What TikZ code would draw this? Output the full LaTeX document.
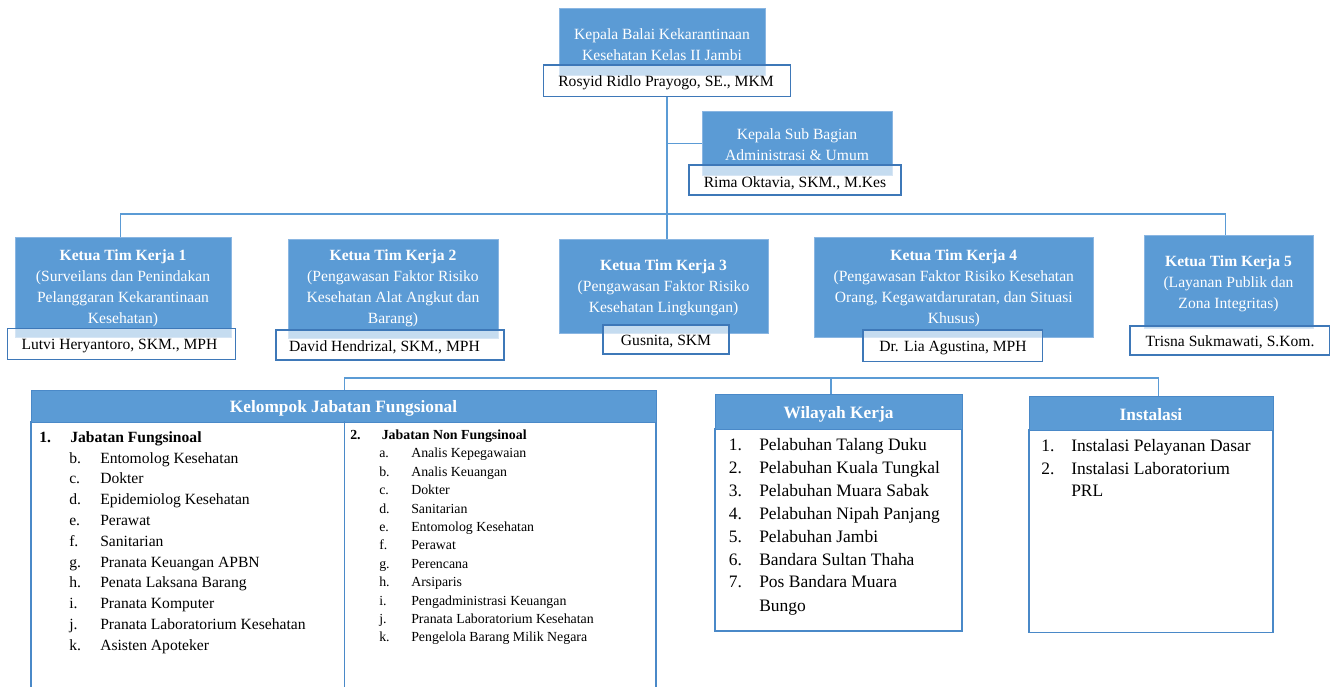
\documentclass[tikz,border=0pt]{standalone}
\usepackage{fontspec}
\setmainfont{Liberation Serif}
\usetikzlibrary{fit}
\definecolor{cBlue}{HTML}{5B9BD5}
\definecolor{cBlueEdge}{HTML}{8AB6E2}
\definecolor{cName}{HTML}{3E78B8}
\definecolor{cLine}{HTML}{5B9BD5}
\definecolor{cListB}{HTML}{4A89C8}
\tikzset{
 bluebox/.style={fill=cBlue, draw=cBlueEdge, line width=0.4pt, inner sep=0pt},
 bt/.style={inner sep=0pt, text=white, align=center, font=\fontsize{11.7}{15.8}\selectfont},
 namebox/.style={draw=cName, line width=0.8pt, fill=white, fill opacity=0.65, inner sep=0pt},
 nt/.style={inner sep=0pt, font=\fontsize{11.7}{14}\selectfont},
 conn/.style={draw=cLine, line width=0.9pt},
 hdr/.style={fill=cBlue, draw=cListB, line width=0.7pt, inner sep=0pt},
 ht/.style={inner sep=0pt, text=white, font=\bfseries\fontsize{13}{15}\selectfont},
 listbody/.style={draw=cListB, line width=0.8pt, inner sep=0pt},
 lt/.style={inner sep=0pt, anchor=base west, font=\fontsize{11.7}{14}\selectfont},
 ltr/.style={inner sep=0pt, anchor=base west, font=\fontsize{10.4}{12}\selectfont},
 lw/.style={inner sep=0pt, anchor=base west, font=\fontsize{13.1}{15}\selectfont},
}
\begin{document}
\begin{tikzpicture}[x=0.75pt,y=-0.75pt]
\useasboundingbox (0,0) rectangle (1331,686);
\fill[white] (0,0) rectangle (1331,686);

% list bodies first
\node[listbody, fit={(31,422)(656,700)}] (kb) {};
\node[listbody, fit={(715,429)(962,631)}] (wb) {};
\node[listbody, fit={(1029,430)(1273,632.7)}] (ib) {};

% connector coordinates
\coordinate (busL) at (120.7,214);
\coordinate (busR) at (1225.7,214);
\coordinate (bbL) at (344.5,378);
\coordinate (bbR) at (1158.5,378);
\coordinate (bbW) at (831,378);

% blue boxes
\node[bluebox, fit={(559,8.3)(765,75)}] (top) {};
\node[bluebox, fit={(702,111.7)(892.7,175)}] (sub) {};
\node[bluebox, fit={(15,237.3)(231.7,337.3)}] (t1) {};
\node[bluebox, fit={(288.3,239)(498.3,338.3)}] (t2) {};
\node[bluebox, fit={(559,239)(768,333.3)}] (t3) {};
\node[bluebox, fit={(814,237.7)(1093.6,337.7)}] (t4) {};
\node[bluebox, fit={(1144,235)(1313,328)}] (t5) {};

\node[bt] (topx) at (662,45) {Kepala Balai Kekarantinaan\\Kesehatan Kelas II Jambi};
\node[bt] (subx) at (797,145) {Kepala Sub Bagian\\Administrasi \& Umum};
\node[bt] (t1x) at (123,288) {\textbf{Ketua Tim Kerja 1}\\(Surveilans dan Penindakan\\Pelanggaran Kekarantinaan\\Kesehatan)};
\node[bt] (t2x) at (393,288) {\textbf{Ketua Tim Kerja 2}\\(Pengawasan Faktor Risiko\\Kesehatan Alat Angkut dan\\Barang)};
\node[bt] (t3x) at (663.5,287.5) {\textbf{Ketua Tim Kerja 3}\\(Pengawasan Faktor Risiko\\Kesehatan Lingkungan)};
\node[bt] (t4x) at (953.8,288) {\textbf{Ketua Tim Kerja 4}\\(Pengawasan Faktor Risiko Kesehatan\\Orang, Kegawatdaruratan, dan Situasi\\Khusus)};
\node[bt] (t5x) at (1228.5,283.5) {\textbf{Ketua Tim Kerja 5}\\(Layanan Publik dan\\Zona Integritas)};

% name boxes
\node[namebox, fit={(543.3,65)(790.7,96.7)}] (topname) {};
\node[namebox, fit={(689,165)(901,195)}] (subname) {};
\node[namebox, fit={(7.3,328.3)(235.7,359.3)}] (n1) {};
\node[namebox, fit={(276,330)(504,360)}] (n2) {};
\node[namebox, fit={(603,325)(729,354)}] (n3) {};
\node[namebox, fit={(863,330)(1042.6,361.7)}] (n4) {};
\node[namebox, fit={(1130,326)(1329.7,355)}] (n5) {};

\node[nt] (topnamex) at (666,83) {Rosyid Ridlo Prayogo, SE., MKM};
\node[nt] (subnamex) at (795,183.5) {Rima Oktavia, SKM., M.Kes};
\node[nt] (n1x) at (119.5,346) {Lutvi Heryantoro, SKM., MPH};
\node[nt] (n2x) at (384.5,347.5) {David Hendrizal, SKM., MPH};
\node[nt] (n3x) at (666,342) {Gusnita, SKM};
\node[nt] (n4x) at (953,348) {Dr. Lia Agustina, MPH};
\node[nt] (n5x) at (1230,342.5) {Trisna Sukmawati, S.Kom.};

% headers
\node[hdr, fit={(31,390)(656,422)}] (kh) {};
\node[hdr, fit={(715,394.3)(962,429)}] (wh) {};
\node[hdr, fit={(1029,396)(1273,430)}] (ih) {};
\node[ht] (khx) at (343.5,408) {Kelompok Jabatan Fungsional};
\node[ht] (whx) at (838.5,414) {Wilayah Kerja};
\node[ht] (ihx) at (1151,415) {Instalasi};

% connectors (top part)
\draw[conn] (topname.south) -- (topname.south |- t3.north);
\draw[conn] (topname.south |- sub.west) -- (sub.west);
\draw[conn] (busL |- t1.north) -- (busL) -- (busR) -- (busR |- t5.north);

% connectors (bottom part) and divider
\draw[conn] (bbL |- kh.north) -- (bbL) -- (bbR) -- (bbR |- ih.north);
\draw[conn] (bbW) -- (bbW |- wh.north);
\draw[draw=cListB, line width=0.8pt] (bbL |- kb.north) -- (bbL |- kb.south);

% left column
\node[lt] (jf1n) at (39,442) {\textbf{1.}};
\node[lt] (jf1t) at (70,442) {\textbf{Jabatan Fungsinoal}};
\foreach \lab/\txt [count=\i] in {b./Entomolog Kesehatan, c./Dokter, d./Epidemiolog Kesehatan, e./Perawat, f./Sanitarian, g./Pranata Keuangan APBN, h./Penata Laksana Barang, i./Pranata Komputer, j./Pranata Laboratorium Kesehatan, k./Asisten Apoteker}{
  \node[lt] (jfl\i) at (69,{463+(\i-1)*20.8}) {\lab};
  \node[lt] (jft\i) at (100,{463+(\i-1)*20.8}) {\txt};
}

% right column
\node[ltr] (jn1n) at (350,439.3) {\textbf{2.}};
\node[ltr] (jn1t) at (381.5,439.3) {\textbf{Jabatan Non Fungsinoal}};
\foreach \lab/\txt [count=\i] in {a./Analis Kepegawaian, b./Analis Keuangan, c./Dokter, d./Sanitarian, e./Entomolog Kesehatan, f./Perawat, g./Perencana, h./Arsiparis, i./Pengadministrasi Keuangan, j./Pranata Laboratorium Kesehatan, k./Pengelola Barang Milik Negara}{
  \node[ltr] (jnl\i) at (379,{457.9+(\i-1)*18.4}) {\lab};
  \node[ltr] (jnt\i) at (411,{457.9+(\i-1)*18.4}) {\txt};
}

% wilayah
\foreach \txt [count=\i] in {Pelabuhan Talang Duku, Pelabuhan Kuala Tungkal, Pelabuhan Muara Sabak, Pelabuhan Nipah Panjang, Pelabuhan Jambi, Bandara Sultan Thaha, Pos Bandara Muara}{
  \node[lw] (wkn\i) at (728.5,{450.5+(\i-1)*22.9}) {\i.};
  \node[lw] (wkt\i) at (759,{450.5+(\i-1)*22.9}) {\txt};
}
\node[lw] (wkt8) at (759,611.5) {Bungo};

% instalasi
\node[lw] (isn1) at (1041,451.5) {1.};
\node[lw] (ist1) at (1071,451.5) {Instalasi Pelayanan Dasar};
\node[lw] (isn2) at (1041,474.8) {2.};
\node[lw] (ist2) at (1071,474.8) {Instalasi Laboratorium};
\node[lw] (ist3) at (1071,496.5) {PRL};
\end{tikzpicture}
\end{document}
